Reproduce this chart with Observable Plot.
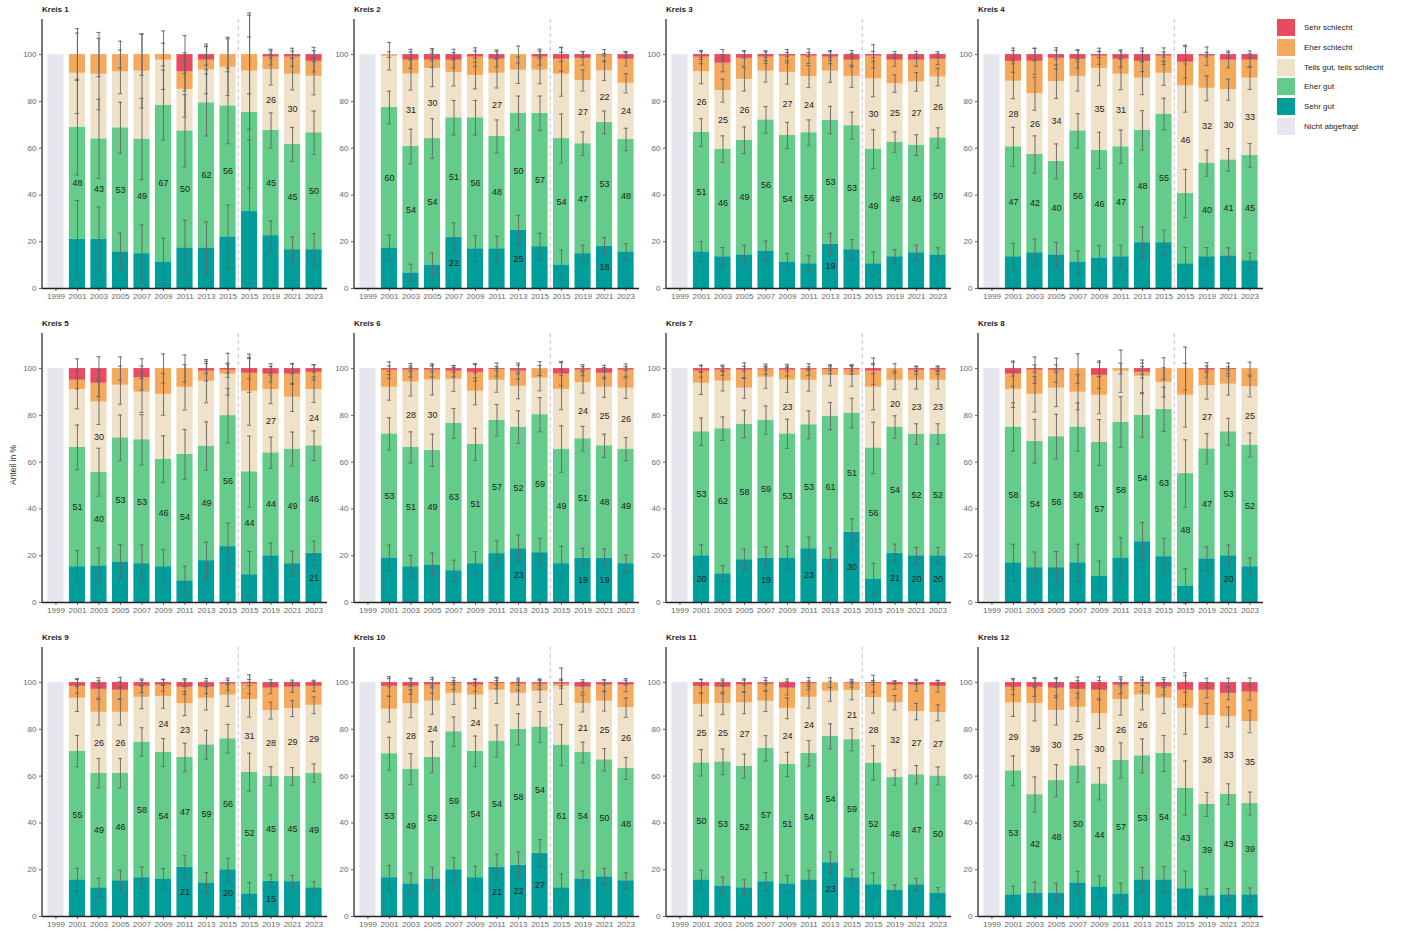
<!DOCTYPE html>
<html><head><meta charset="utf-8">
<script src="https://cdn.jsdelivr.net/npm/d3@7"></script>
<script src="https://cdn.jsdelivr.net/npm/@observablehq/plot@0.6"></script>
<style>
body{margin:0;background:#fff;font-family:"Liberation Sans",Arial,sans-serif;}
#wrap{position:relative;width:1402px;height:935px;overflow:hidden;background:#fff}
.panel{position:absolute}
.title{position:absolute;font-weight:bold;font-size:8px;color:#222;line-height:10px}
.ylab{position:absolute;font-size:8.5px;color:#333;transform:rotate(-90deg);white-space:nowrap}
.legend{position:absolute;left:1277px;top:19px;font-size:8px;color:#222}
.legend .item{display:flex;align-items:center;height:17px;margin-bottom:2.8px}
.legend .sw{width:18px;height:17px;margin-right:9px}
</style></head><body><div id="wrap"></div>
<script>
const kreise = ["Kreis 1","Kreis 2","Kreis 3","Kreis 4","Kreis 5","Kreis 6","Kreis 7","Kreis 8","Kreis 9","Kreis 10","Kreis 11","Kreis 12"];
const years = ["1999","2001","2003","2005","2007","2009","2011","2013","2015","2015b","2019","2021","2023"];
const yearLabels = ["1999","2001","2003","2005","2007","2009","2011","2013","2015","2015","2019","2021","2023"];
const categories = ["Sehr gut","Eher gut","Teils gut, teils schlecht","Eher schlecht","Sehr schlecht"];
const notAsked = "Nicht abgefragt";
const legendOrder = ["Sehr schlecht","Eher schlecht","Teils gut, teils schlecht","Eher gut","Sehr gut","Nicht abgefragt"];
const palette = ["#009e9b","#63cc8a","#f0e2c9","#f5a95c","#e84b5f","#e7e6ee"];

// shares in % for survey years 2001 ... 2023 (1999 not asked)
const sehrGut = [
  [21,21,15.7,14.9,11.4,17.4,17.4,22.1,32.9,22.6,16.6,16.6],
  [17.4,6.7,10.1,22,17,17,25,17.9,10.1,14.9,18,15.7],
  [15.7,13.6,14.4,16.1,11.4,10.6,19,16.6,10.6,13.6,15.3,14.4],
  [13.6,15.3,14.4,11.4,13.1,13.6,19.6,19.6,10.6,13.6,14,11.9],
  [15.3,15.7,17.4,16.6,15.3,9.3,17.9,23.9,11.9,20,16.6,21],
  [19.1,15.3,16.1,13.6,16.6,20.9,23,21.3,16.6,19,19,16.6],
  [20,12.3,18.3,19,19.1,23,18.7,30,10.1,21,20,20],
  [17,14.9,14.9,17,11.4,19.1,26,19.6,7.1,18.7,20,15.3],
  [15.7,12.3,15.3,16.6,16.1,21,14.4,20,9.7,15,14.9,12.3],
  [16.6,14,16.1,20,16.6,21,22,27,12.3,16.1,17,15.3],
  [15.7,13.1,12.3,14.9,14,15.7,23,16.6,13.6,11.4,13.6,10.1],
  [9.3,10.1,10.1,14.4,12.7,9.7,15.7,15.7,11.9,8.9,9.3,9.3]
];
const eherGut = [
  [48,43,53,49,67,50,62,56,42.4,45,45,50],
  [60,54,54,51,56,48,50,57,54,47,53,48],
  [51,46,49,56,54,56,53,53,49,49,46,50],
  [47,42,40,56,46,47,48,55,30,40,41,45],
  [51,40,53,53,46,54,49,56,44,44,49,46],
  [53,51,49,63,51,57,52,59,49,51,48,49],
  [53,62,58,59,53,53,61,51,56,54,52,52],
  [58,54,56,58,57,58,54,63,48,47,53,52],
  [55,49,46,58,54,47,59,56,52,45,45,49],
  [53,49,52,59,54,54,58,54,61,54,50,48],
  [50,53,52,57,51,54,54,59,52,48,47,50],
  [53,42,48,50,44,57,53,54,43,39,43,39]
];
const teilsTeils = [
  [23,27.6,23.9,29,19.2,17.7,14,16.5,17.6,26,30,24.1],
  [21.9,31,30,19.4,18.1,27,18.3,18.4,27.5,27,22,24],
  [26,25,26,20.8,27,24,20.9,21.1,30,25,27,26],
  [28,26,34,23.3,35,31,22.3,17.4,46,32,30,33],
  [24.8,30,22.5,20.3,27.7,28.7,27.7,17.7,34.4,27,22.1,24],
  [19.9,28,30,18.8,22.7,17.1,17.4,15.6,25.5,24,25,26],
  [20.7,20.3,15.3,18.3,23,19,17.4,16.1,25.9,20,23,23],
  [16.1,20.1,20.7,14.9,20.2,21.8,16.7,11.5,33.5,27,20.3,25],
  [22.6,26,26,19.1,24,23,19.9,18.6,31,28,29,29],
  [19,28,24,16.4,24,21.7,15.4,15.3,25.1,21,25,26],
  [25,25,27,20.1,24,24,19.3,21,28,32,27,27],
  [29,39,30,25,30,26,26,23.6,34.1,38,33,35]
];
const eherSchlecht = [
  [8,8.4,7.4,7.1,2.4,7.5,4.2,5.4,7.1,5.3,7.3,6.4],
  [0.7,5.9,3.5,5.2,7.8,6,6.7,5.6,6.4,9.5,6.7,10.3],
  [6.2,11.7,9,6,6.9,8.7,6,6.9,9.7,10,9.3,7.6],
  [8.5,13.8,10,7.3,5.2,6.4,7.2,7.3,10.1,13.7,12.6,7.7],
  [3.9,8,7.1,6.1,11,8,4.3,1.7,7.7,6.6,9.9,7.4],
  [7.3,5,4.2,3.5,8.1,4.6,6.5,4.1,6.5,5.3,6,7.7],
  [5.2,4.7,7.7,3.4,4.2,4.6,2.5,2.3,6.9,5,4.3,4.3],
  [6.5,10.3,7.7,10.1,8.5,1.1,1.7,5.9,11.4,6.6,6.3,7.7],
  [5.1,9.8,9.4,4.7,4.8,7,4.7,4.7,6.6,9.6,9.1,8.1],
  [9.8,7.4,6.8,4.2,4.3,2.9,3.9,3,0.9,6.9,6.9,9.6],
  [7.7,6.9,7.6,7.3,8.6,5.9,3.7,3.1,6,7.5,11.3,11.3],
  [6.7,6.9,9.5,7.7,10,6.2,4.6,4.7,7.7,10.8,10.1,12.6]
];
const sehrSchlecht = [
  [0,0,0,0,0,7.4,2.4,0,0,1.1,1.1,2.9],
  [0,2.4,2.4,2.4,1.1,2,0,1.1,2,1.6,0.3,2],
  [1.1,3.7,1.6,1.1,0.7,0.7,1.1,2.4,0.7,2.4,2.4,2],
  [2.9,2.9,1.6,2,0.7,2,2.9,0.7,3.3,0.7,2.4,2.4],
  [5,6.3,0,4,0,0,1.1,0.7,2,2.4,2.4,1.6],
  [0.7,0.7,0.7,1.1,1.6,0.4,1.1,0,2.4,0.7,2,0.7],
  [1.1,0.7,0.7,0.3,0.7,0.4,0.4,0.6,1.1,0,0.7,0.7],
  [2.4,0.7,0.7,0,2.9,0,1.6,0,0,0.7,0.4,0],
  [1.6,2.9,3.3,1.6,1.1,2,2,0.7,0.7,2.4,2,1.6],
  [1.6,1.6,1.1,0.4,1.1,0.4,0.7,0.7,0.7,2,1.1,1.1],
  [1.6,2,1.1,0.7,2.4,0.4,0,0.3,0.4,1.1,1.1,1.6],
  [2,2,2.4,2.9,3.3,1.1,0.7,2,3.3,3.3,4.6,4.1]
];
// sample sizes (used for the 95% confidence intervals)
const stichprobe = [
  [23,33,80,32,38,40,45,36,9,170,180,112],
  [190,175,133,177,173,193,182,173,87,378,403,416],
  [275,297,296,295,300,315,279,288,140,502,485,525],
  [139,148,169,176,161,188,135,207,76,297,400,372],
  [105,88,101,83,96,84,90,70,41,211,182,236],
  [203,216,200,223,204,210,197,174,97,347,388,388],
  [278,360,272,256,246,272,276,240,79,411,494,494],
  [87,109,103,87,98,80,110,100,46,225,290,363],
  [212,247,246,252,269,258,245,252,146,590,671,615],
  [196,219,217,236,222,206,208,219,119,479,420,431],
  [303,318,360,322,357,318,331,411,174,880,620,654],
  [237,164,205,197,201,166,182,162,70,347,479,384]
];
// which segments carry a value label (1 = shown)
const labelSehrGut = ["000000000000","000100100010","000000100000","000000000000","000000000001","000000100110","100101010111","000000000010","000001010100","000001110000","000000100000","000000000000"];
const labelEherGut = ["111111110111","111111111111","111111111111","111111110111","111111111111","111111111111","111111111111","111111111111","111111111111","111111111111","111111111111","111111111111"];
const labelTeils = ["000000000110","011001000111","111011001111","111011001111","010000000101","011000000111","000010000111","000000000101","011011001111","011010000111","111011011111","111111100111"];

const surveyYears = years.slice(1);
function panelData(k) {
  const segs = [], errs = [];
  surveyYears.forEach((yr, i) => {
    let cum = 0;
    const vals = [sehrGut[k][i], eherGut[k][i], teilsTeils[k][i], eherSchlecht[k][i], sehrSchlecht[k][i]];
    const masks = [labelSehrGut[k][i], labelEherGut[k][i], labelTeils[k][i], "0", "0"];
    vals.forEach((v, c) => {
      const y1 = cum, y2 = cum + v; cum = y2;
      segs.push({year: yr, cat: categories[c], value: v, y1, y2, label: masks[c] === "1" ? String(Math.round(v)) : null});
      if (v > 0) {
        const p = v / 100;
        const hw = 1.96 * Math.sqrt(p * (1 - p) / stichprobe[k][i]) * 100;
        errs.push({year: yr, lo: y2 - hw, hi: y2 + hw});
      }
    });
  });
  return {segs, errs};
}

const wrap = document.getElementById("wrap");
const font = '"Liberation Sans", Arial, sans-serif';

kreise.forEach((name, k) => {
  const col = k % 4, row = Math.floor(k / 4);
  const {segs, errs} = panelData(k);
  const errStyle = {stroke: "#666", strokeWidth: 1.1, strokeOpacity: 0.85};
  const chart = Plot.plot({
    width: 330, height: 314,
    marginLeft: 42, marginRight: 3, marginTop: 19, marginBottom: 26,
    style: {background: "transparent", fontFamily: font, fontSize: "8px", color: "#666", overflow: "visible"},
    x: {domain: years, padding: 0.25, round: false, tickFormat: d => yearLabels[years.indexOf(d)], tickSize: 3, tickPadding: 2, label: null},
    y: {domain: [0, 115], ticks: 6, tickSize: 3, tickPadding: 3, label: null},
    color: {domain: [...categories, notAsked], range: palette},
    marks: [
      Plot.barY([{year: "1999", cat: notAsked}], {x: "year", y1: 0, y2: 100, fill: "cat"}),
      Plot.barY(segs, {x: "year", y1: "y1", y2: "y2", fill: "cat"}),
      (index, scales, values, dims) => {
        const x = scales.x, y = scales.y;
        const bw = x.bandwidth();
        const xm = (x("2015") + bw + x("2015b")) / 2;
        const g = d3.create("svg:g");
        g.append("line").attr("x1", xm).attr("x2", xm).attr("y1", y(115)).attr("y2", y(0))
          .attr("stroke", "#cdcdcd").attr("stroke-width", 1.2).attr("stroke-dasharray", "4,3");
        g.append("line").attr("x1", dims.marginLeft).attr("x2", dims.marginLeft).attr("y1", y(115)).attr("y2", y(0))
          .attr("stroke", "#555").attr("stroke-width", 1.6);
        return g.node();
      },
      Plot.ruleX(errs, {x: "year", y1: "lo", y2: "hi", ...errStyle}),
      Plot.tickY(errs, {x: "year", y: "lo", insetLeft: 6, insetRight: 6, ...errStyle}),
      Plot.tickY(errs, {x: "year", y: "hi", insetLeft: 6, insetRight: 6, ...errStyle}),
      Plot.text(segs, {x: "year", y: d => (d.y1 + d.y2) / 2, text: "label", fill: "#222", fontSize: 9}),
      Plot.ruleY([0], {stroke: "#222", strokeWidth: 1.3})
    ]
  });
  chart.classList.add("panel");
  chart.style.left = (col * 312) + "px";
  chart.style.top = (row * 314) + "px";
  wrap.appendChild(chart);

  const t = document.createElement("div");
  t.className = "title";
  t.textContent = name;
  t.style.left = (col * 312 + 42) + "px";
  t.style.top = (row * 314 + 5) + "px";
  wrap.appendChild(t);
});

const yl = document.createElement("div");
yl.className = "ylab";
yl.textContent = "Anteil in %";
yl.style.left = "-10px";
yl.style.top = "460px";
yl.style.width = "46px";
yl.style.textAlign = "center";
wrap.appendChild(yl);

const leg = document.createElement("div");
leg.className = "legend";
legendOrder.forEach(lbl => {
  const idx = [...categories, notAsked].indexOf(lbl);
  const it = document.createElement("div");
  it.className = "item";
  const sw = document.createElement("div");
  sw.className = "sw";
  sw.style.background = palette[idx];
  const tx = document.createElement("span");
  tx.textContent = lbl;
  it.appendChild(sw); it.appendChild(tx);
  leg.appendChild(it);
});
wrap.appendChild(leg);
</script></body></html>
